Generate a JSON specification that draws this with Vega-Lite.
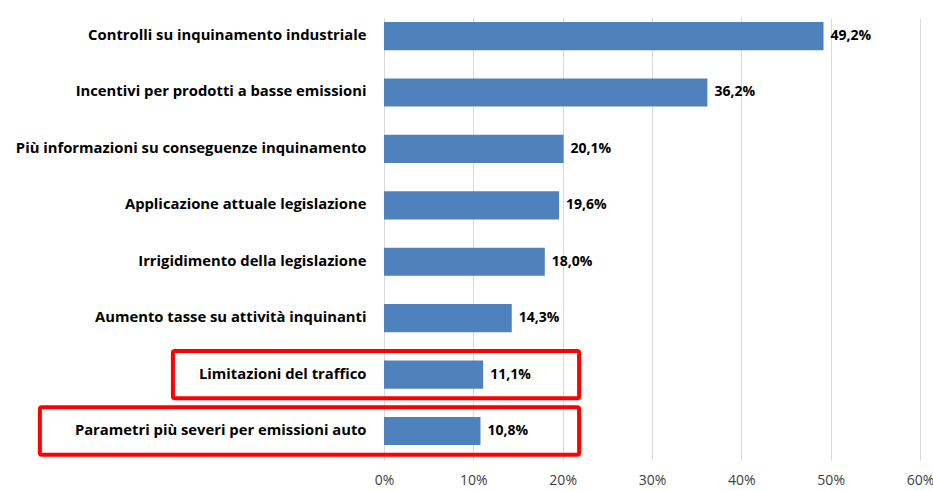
{
  "$schema": "https://vega.github.io/schema/vega-lite/v6.json",
  "width": 536,
  "height": 442,
  "autosize": {"type": "none"},
  "padding": {"left": 384, "top": 18, "right": 13, "bottom": 31},
  "background": "white",
  "config": {
    "locale": {"number": {"decimal": ",", "thousands": ".", "grouping": [3], "currency": ["€", ""]}},
    "view": {"stroke": null},
    "font": "Open Sans"
  },
  "datasets": {
    "bars": [
      {"cat": "Controlli su inquinamento industriale", "value": 0.492},
      {"cat": "Incentivi per prodotti a basse emissioni", "value": 0.362},
      {"cat": "Più informazioni su conseguenze inquinamento", "value": 0.201},
      {"cat": "Applicazione attuale legislazione", "value": 0.196},
      {"cat": "Irrigidimento della legislazione", "value": 0.180},
      {"cat": "Aumento tasse su attività  inquinanti", "value": 0.143},
      {"cat": "Limitazioni del traffico", "value": 0.111},
      {"cat": "Parametri più severi per emissioni auto", "value": 0.108}
    ],
    "boxes": [
      {"cat": "Limitazioni del traffico", "start": -0.2363, "end": 0.2184},
      {"cat": "Parametri più severi per emissioni auto", "start": -0.3852, "end": 0.2184}
    ]
  },
  "encoding": {
    "y": {
      "field": "cat",
      "type": "nominal",
      "sort": [
        "Controlli su inquinamento industriale",
        "Incentivi per prodotti a basse emissioni",
        "Più informazioni su conseguenze inquinamento",
        "Applicazione attuale legislazione",
        "Irrigidimento della legislazione",
        "Aumento tasse su attività  inquinanti",
        "Limitazioni del traffico",
        "Parametri più severi per emissioni auto"
      ],
      "scale": {"paddingInner": 0.5, "paddingOuter": 0.167, "align": 0.21},
      "axis": {
        "title": null,
        "ticks": false,
        "domain": false,
        "labelPadding": 18,
        "labelLimit": 400,
        "labelFont": "Open Sans",
        "labelFontWeight": "bold",
        "labelFontSize": 14.8,
        "labelColor": "#000000"
      }
    }
  },
  "layer": [
    {
      "data": {"name": "bars"},
      "mark": {"type": "bar", "color": "#4F81BD"},
      "encoding": {
        "x": {
          "field": "value",
          "type": "quantitative",
          "scale": {"domain": [0, 0.6], "nice": false},
          "axis": {
            "title": null,
            "format": ".0%",
            "values": [0, 0.1, 0.2, 0.3, 0.4, 0.5, 0.6],
            "ticks": false,
            "domain": false,
            "grid": true,
            "gridColor": "#D9D9D9",
            "gridWidth": 1,
            "labelFlush": false,
            "labelPadding": 13,
            "labelFont": "Open Sans",
            "labelFontSize": 14,
            "labelColor": "#404040"
          }
        }
      }
    },
    {
      "data": {"name": "bars"},
      "mark": {"type": "text", "align": "left", "baseline": "middle", "dx": 7, "font": "Open Sans", "fontWeight": "bold", "fontSize": 14, "color": "#000000"},
      "encoding": {
        "x": {"field": "value", "type": "quantitative"},
        "text": {"field": "value", "type": "quantitative", "format": ".1%"}
      }
    },
    {
      "data": {"name": "boxes"},
      "mark": {"type": "bar", "filled": false, "stroke": "#FF0000", "strokeWidth": 4, "cornerRadius": 2, "height": {"band": 1.68}},
      "encoding": {
        "x": {"field": "start", "type": "quantitative"},
        "x2": {"field": "end"}
      }
    }
  ]
}
